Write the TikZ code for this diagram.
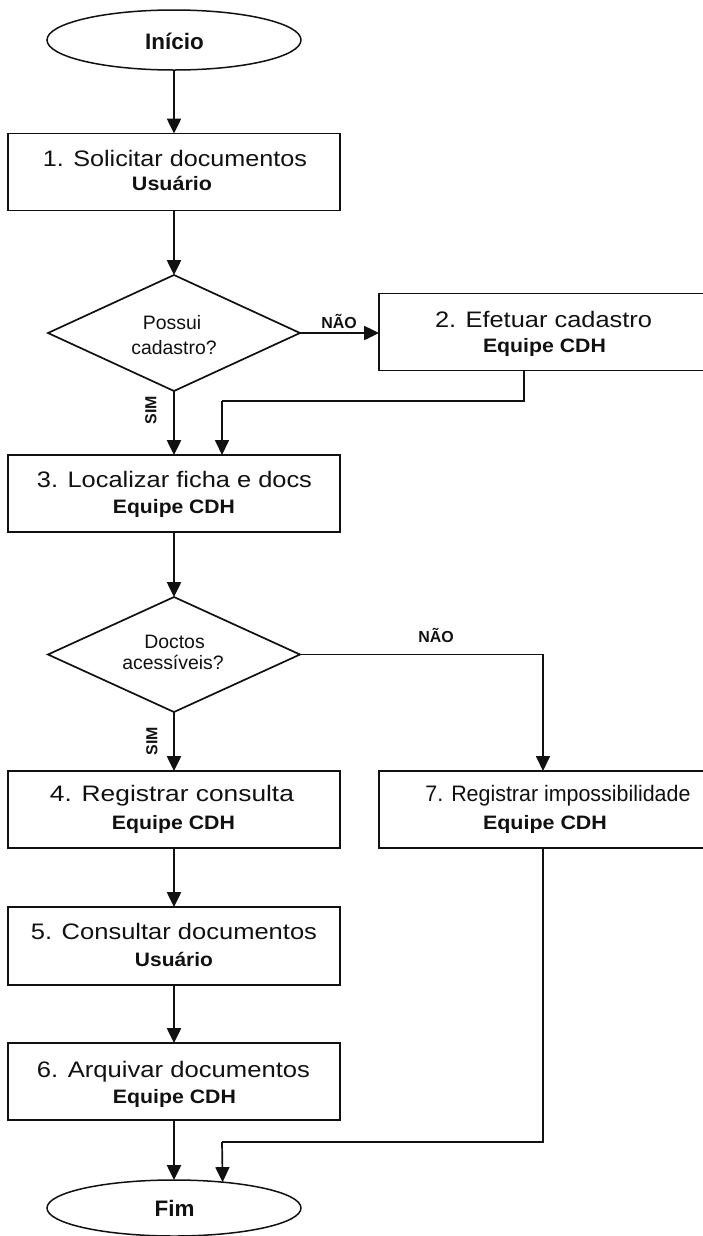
\documentclass[tikz,border=0pt]{standalone}
\usepackage{fontspec}
\setmainfont{Liberation Sans}
\usetikzlibrary{shapes.geometric,arrows.meta}
\definecolor{ink}{HTML}{111111}
% stretch a text horizontally to a given width (in bp), keeping its height
\newcommand\fitw[2]{\resizebox{#1bp}{\height}{#2}}

\begin{document}
\begin{tikzpicture}[x=1bp,y=-1bp,
  stepbox/.style={draw=ink, line width=1.7bp, rectangle, inner sep=0pt, outer sep=0pt,
                  minimum width=332bp, minimum height=77bp},
  wideb/.style={stepbox, minimum width=328bp},
  decision/.style={draw=ink, line width=1.7bp, diamond, inner sep=0pt, outer sep=0pt,
                   minimum width=252bp, minimum height=116bp},
  terminal/.style={draw=ink, line width=1.5bp, ellipse, inner sep=0pt, outer sep=0pt,
                   minimum width=254bp, minimum height=60bp},
  ttl/.style={anchor=base, inner sep=0pt, text=ink, font=\fontsize{22.5}{24}\selectfont},
  who/.style={anchor=base, inner sep=0pt, text=ink, font=\bfseries\fontsize{19.5}{21}\selectfont},
  ask/.style={anchor=base, inner sep=0pt, text=ink, font=\fontsize{19.5}{21}\selectfont},
  endtxt/.style={anchor=base, inner sep=0pt, text=ink, font=\bfseries\fontsize{22.5}{24}\selectfont},
  tag/.style={inner sep=0pt, text=ink, font=\bfseries\fontsize{16}{18}\selectfont},
  flow/.style={draw=ink, line width=2.5bp, -{Triangle[length=15bp,width=14bp]}},
  side/.style={draw=ink, line width=1.7bp},
  sidearrow/.style={side, -{Triangle[length=15bp,width=14bp]}}
]
\useasboundingbox (0,0) rectangle (703,1236);
\fill[white] (0,0) rectangle (703,1236);

% ---- shapes ----
\node[terminal] (e1) at (174,40) {};
\node[stepbox] (b1) at (174,172) {};
\node[decision] (d1) at (174,333) {};
\node[wideb] (b2) at (543,332) {};
\node[stepbox] (b3) at (174,493.5) {};
\node[decision, minimum height=115bp] (d2) at (174,654.5) {};
\node[stepbox] (b4) at (174,809.5) {};
\node[wideb] (b7) at (543,809.5) {};
\node[stepbox, minimum height=78bp] (b5) at (174,946) {};
\node[stepbox] (b6) at (174,1081.5) {};
\node[terminal, minimum height=56bp] (e2) at (174,1208) {};

% ---- texts ----
\node[endtxt] (t0) at (174.5,49) {Início};
\node[ttl] (t1) at (175,166) {\fitw{264}{1. Solicitar documentos}};
\node[who] (s1) at (172,190) {\fitw{80}{Usuário}};
\node[ask] (q1a) at (172,329) {Possui};
\node[ask] (q1b) at (174,354) {cadastro?};
\node[ttl] (t2) at (543.5,327) {\fitw{217}{2. Efetuar cadastro}};
\node[who] (s2) at (544.5,352) {\fitw{123}{Equipe CDH}};
\node[ttl] (t3) at (174.5,487) {\fitw{275}{3. Localizar ficha e docs}};
\node[who] (s3) at (174,513) {\fitw{122}{Equipe CDH}};
\node[ask] (q2a) at (174.5,648) {Doctos};
\node[ask] (q2b) at (173,669) {acessíveis?};
\node[ttl] (t4) at (172,801) {\fitw{244}{4. Registrar consulta}};
\node[who] (s4) at (173.5,829) {\fitw{123}{Equipe CDH}};
\node[ttl] (t7) at (558,801) {\fitw{265}{7. Registrar impossibilidade}};
\node[who] (s7) at (545,829) {\fitw{124}{Equipe CDH}};
\node[ttl] (t5) at (174,939) {\fitw{286}{5. Consultar documentos}};
\node[who] (s5) at (174,966) {\fitw{78}{Usuário}};
\node[ttl] (t6) at (173.5,1077) {\fitw{273}{6. Arquivar documentos}};
\node[who] (s6) at (174.5,1103) {\fitw{123}{Equipe CDH}};
\node[endtxt] (tf) at (174.5,1216) {Fim};

% ---- branch labels ----
\node[tag, anchor=base] (n1) at (339,328) {NÃO};
\node[tag, anchor=base] (n2) at (436,642) {NÃO};
\node[tag, rotate=90] (y1) at (151,410) {SIM};
\node[tag, rotate=90] (y2) at (152,741) {SIM};

% ---- junction points of the return paths ----
\coordinate (j1) at (222,401);
\coordinate (j2) at (222,1142);

% ---- connectors ----
\draw[flow] (e1.south) -- (b1.north);
\draw[flow] (b1.south) -- (d1.north);
\draw[flow] (d1.east) -- (d1.east -| b2.west);
\draw[flow] (d1.south) -- (b3.north);
\draw[side] ([xshift=-19bp]b2.south) |- (j1);
\draw[sidearrow] (j1) -- (j1 |- b3.north);
\draw[flow] (b3.south) -- (d2.north);
\draw[flow] (d2.south) -- (b4.north);
\draw[sidearrow] (d2.east) -| (b7.north);
\draw[flow] (b4.south) -- (b5.north);
\draw[flow] (b5.south) -- (b6.north);
\draw[flow] (b6.south) -- (e2.north);
\draw[side] (b7.south) |- (j2);
\draw[sidearrow] (j2) -- (e2.28.4);
\end{tikzpicture}
\end{document}
